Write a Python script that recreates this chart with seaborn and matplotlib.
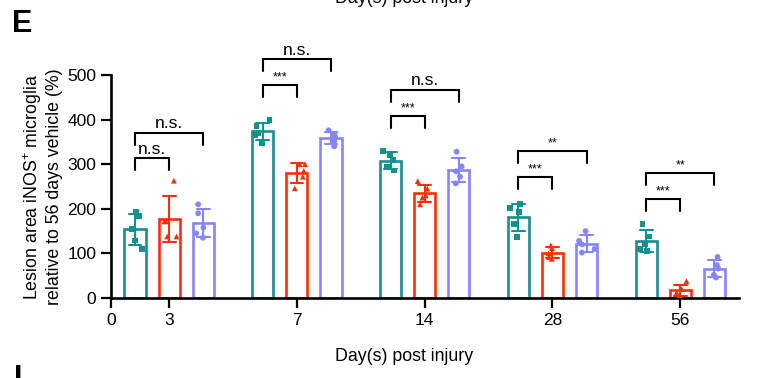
import numpy as np
import pandas as pd
import matplotlib
matplotlib.use('Agg')
import matplotlib.pyplot as plt
import seaborn as sns

sns.set_style('ticks')
plt.rcParams['font.family'] = ['Liberation Sans', 'DejaVu Sans']
plt.rcParams['mathtext.default'] = 'regular'
plt.rcParams['text.color'] = 'black'
plt.rcParams['axes.labelcolor'] = 'black'
plt.rcParams['xtick.color'] = 'black'
plt.rcParams['ytick.color'] = 'black'

# data (5 animals per group)
days = ['3', '7', '14', '28', '56']
groups = ['teal', 'red', 'blue']
teal_pts = [[192, 184, 155, 129, 109],
            [400, 385, 370, 365, 348],
            [330, 321, 310, 293, 286],
            [211, 201, 192, 166, 136],
            [166, 138, 120, 110, 106]]
red_pts = [[263, 172, 172, 138, 138],
           [300, 300, 285, 272, 246],
           [262, 245, 230, 225, 210],
           [118, 112, 100, 92, 88],
           [38, 20, 12, 10, 5]]
blue_pts = [[210, 190, 158, 145, 135],
            [376, 366, 360, 352, 340],
            [328, 295, 284, 272, 257],
            [150, 128, 120, 110, 102],
            [92, 74, 66, 52, 46]]
colors = ['#14918D', '#FF2E0A', '#8585FF']
markers = ['s', '^', 'o']

# significance brackets: (day index, second group index, label, bracket top)
sig_day = [0, 0, 1, 1, 2, 2, 3, 3, 4, 4]
sig_pair = [1, 2, 1, 2, 1, 2, 1, 2, 1, 2]
sig_text = ['n.s.', 'n.s.', '***', 'n.s.', '***', 'n.s.', '***', '**', '***', '**']
sig_top = [314, 371, 477, 536, 409, 467, 271, 329, 222, 281]

rows = []
for g, pts in zip(groups, [teal_pts, red_pts, blue_pts]):
    for d, vals in zip(days, pts):
        for v in vals:
            rows.append({'day': d, 'group': g, 'value': v})
df = pd.DataFrame(rows)

fig = plt.figure(figsize=(7.58, 3.78), dpi=100)
ax = fig.add_axes([0.1464, 0.2116, 0.8286, 0.59])

pal = dict(zip(groups, colors))
sns.barplot(data=df, x='day', y='value', hue='group', order=days, hue_order=groups,
            palette=pal, fill=False, linewidth=1.9, gap=0.38, width=0.8,
            errorbar='sd', capsize=0.3, err_kws={'linewidth': 1.5},
            legend=False, ax=ax)

np.random.seed(3)
for g, m in zip(groups, markers):
    sns.stripplot(data=df[df['group'] == g], x='day', y='value', hue='group',
                  order=days, hue_order=groups, palette=pal, dodge=True,
                  jitter=0.2, marker=m, size=4.2, linewidth=0, legend=False,
                  zorder=4, ax=ax)

# brackets
step = 0.8 / len(groups)
leg = 27
for d, p, t, top in zip(sig_day, sig_pair, sig_text, sig_top):
    x1 = d - step
    x2 = d - step + p * step
    ax.plot([x1, x1, x2, x2], [top - leg, top, top, top - leg], color='black',
            lw=1.5, clip_on=False, solid_joinstyle='miter')
    if t == 'n.s.':
        ax.text((x1 + x2) / 2, top + 3, t, ha='center', va='bottom', fontsize=12.5)
    else:
        ax.text((x1 + x2) / 2, top + 3, t, ha='center', va='bottom', fontsize=9)

ax.set_ylim(0, 500)
ax.set_yticks([0, 100, 200, 300, 400, 500])
x0, x_end = -0.455, 4.46
ax.set_xlim(x0, x_end)
ax.set_xticks([x0, 0, 1, 2, 3, 4])
ax.set_xticklabels(['0'] + days)
ax.tick_params(axis='both', labelsize=12.5, width=1.6, length=7, pad=3.5, color='black')
for s in ['left', 'bottom']:
    ax.spines[s].set_linewidth(1.9)
    ax.spines[s].set_color('black')
sns.despine(ax=ax)

ax.set_ylabel('Lesion area iNOS$^{+}$ microglia\nrelative to 56 days vehicle (%)',
              fontsize=12.8, labelpad=3)
ax.set_xlabel('Day(s) post injury', fontsize=12.8)
ax.xaxis.set_label_coords(0.4666, -0.225)

fig.text(404 / 758, 1 - 3 / 378, 'Day(s) post injury', ha='center', va='baseline', fontsize=12.8)
fig.text(12 / 758, 1 - 31.5 / 378, 'E', ha='left', va='baseline', fontsize=22, fontweight='bold')
fig.text(14 / 758, 1 - 387 / 378, 'I', ha='left', va='baseline', fontsize=22, fontweight='bold')

fig.savefig('out.png', dpi=100)
